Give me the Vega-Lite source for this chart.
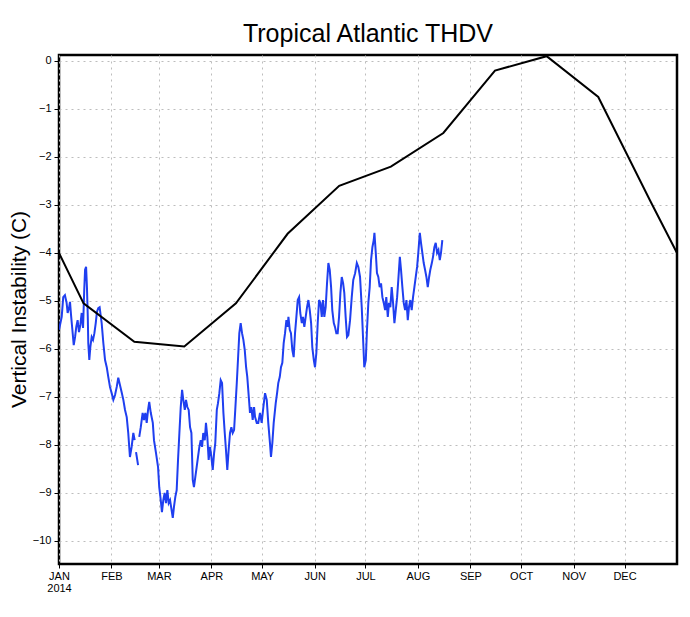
{
  "$schema": "https://vega.github.io/schema/vega-lite/v6.json",
  "width": 618,
  "height": 509,
  "autosize": "none",
  "padding": {"left": 59, "top": 55, "right": 13, "bottom": 53},
  "background": "white",
  "title": {"text": "Tropical Atlantic THDV", "fontSize": 25, "font": "Liberation Sans", "fontWeight": "normal", "color": "black", "anchor": "middle", "offset": 8},
  "config": {
    "view": {"stroke": "black", "strokeWidth": 2.5},
    "axis": {
      "domain": false,
      "grid": true,
      "gridColor": "#bdbdbd",
      "gridDash": [2, 4],
      "gridWidth": 1,
      "tickColor": "black",
      "labelColor": "black",
      "labelFont": "Liberation Sans",
      "labelFontSize": 11,
      "titleColor": "black"
    }
  },
  "datasets": {
    "obs": [
      {"d": 0, "v": -5.6}, {"d": 0.6, "v": -5.5}, {"d": 1.6, "v": -5.33}, {"d": 2.5, "v": -4.92}, {"d": 3.5, "v": -4.88},
      {"d": 4.5, "v": -5.04}, {"d": 5.1, "v": -5.25}, {"d": 5.9, "v": -5.15}, {"d": 6.5, "v": -5.02}, {"d": 7.1, "v": -5.29},
      {"d": 7.9, "v": -5.6}, {"d": 8.7, "v": -5.92}, {"d": 9.5, "v": -5.75}, {"d": 10.2, "v": -5.54}, {"d": 11.0, "v": -5.4},
      {"d": 11.8, "v": -5.65}, {"d": 12.6, "v": -5.5}, {"d": 13.4, "v": -5.25}, {"d": 14.2, "v": -5.56}, {"d": 14.9, "v": -4.77},
      {"d": 15.4, "v": -4.35}, {"d": 16.0, "v": -4.29}, {"d": 16.5, "v": -4.71}, {"d": 17.0, "v": -5.33}, {"d": 17.3, "v": -5.88},
      {"d": 17.9, "v": -6.23}, {"d": 18.5, "v": -5.96}, {"d": 19.3, "v": -5.75}, {"d": 20.1, "v": -5.81}, {"d": 20.9, "v": -5.67},
      {"d": 21.7, "v": -5.46}, {"d": 22.4, "v": -5.23}, {"d": 23.2, "v": -5.15}, {"d": 24.0, "v": -5.13}, {"d": 25.2, "v": -5.46},
      {"d": 26.2, "v": -5.88}, {"d": 27.2, "v": -6.23}, {"d": 28.2, "v": -6.38}, {"d": 29.1, "v": -6.58}, {"d": 30.1, "v": -6.79},
      {"d": 31.1, "v": -6.92}, {"d": 32.1, "v": -7.06}, {"d": 33.1, "v": -6.96}, {"d": 34.1, "v": -6.79}, {"d": 35.0, "v": -6.6},
      {"d": 36.0, "v": -6.75}, {"d": 37.0, "v": -6.9}, {"d": 38.0, "v": -7.06}, {"d": 39.0, "v": -7.27}, {"d": 40.0, "v": -7.42},
      {"d": 40.9, "v": -7.75}, {"d": 41.9, "v": -8.25}, {"d": 42.9, "v": -8.04}, {"d": 43.9, "v": -7.75}, {"d": 44.7, "v": -7.9},
      {"d": 45.1, "v": null},
      {"d": 45.5, "v": -8.15}, {"d": 46.7, "v": -8.42},
      {"d": 47.0, "v": null},
      {"d": 47.4, "v": -7.83}, {"d": 48.3, "v": -7.63}, {"d": 49.4, "v": -7.33}, {"d": 50.2, "v": -7.48}, {"d": 51.0, "v": -7.33},
      {"d": 51.8, "v": -7.54}, {"d": 52.6, "v": -7.27}, {"d": 53.3, "v": -7.1}, {"d": 54.2, "v": -7.33}, {"d": 55.4, "v": -7.54},
      {"d": 56.1, "v": -7.9}, {"d": 57.3, "v": -8.17}, {"d": 58.5, "v": -8.46}, {"d": 59.2, "v": -8.88}, {"d": 60.1, "v": -9.15},
      {"d": 60.8, "v": -9.4}, {"d": 61.6, "v": -9.15}, {"d": 62.4, "v": -9.0}, {"d": 63.2, "v": -9.21}, {"d": 64.0, "v": -8.94},
      {"d": 64.8, "v": -9.21}, {"d": 65.6, "v": -9.15}, {"d": 66.3, "v": -9.31}, {"d": 67.2, "v": -9.52}, {"d": 67.9, "v": -9.29},
      {"d": 68.7, "v": -9.08}, {"d": 69.5, "v": -8.94}, {"d": 70.3, "v": -8.31}, {"d": 71.1, "v": -7.75}, {"d": 71.9, "v": -7.21},
      {"d": 72.7, "v": -6.85}, {"d": 73.4, "v": -7.06}, {"d": 74.3, "v": -7.27}, {"d": 75.0, "v": -7.06}, {"d": 75.8, "v": -7.21},
      {"d": 76.6, "v": -7.27}, {"d": 77.4, "v": -7.63}, {"d": 78.2, "v": -7.75}, {"d": 79.0, "v": -8.73}, {"d": 79.7, "v": -8.88},
      {"d": 80.5, "v": -8.67}, {"d": 81.3, "v": -8.46}, {"d": 82.1, "v": -8.25}, {"d": 82.9, "v": -8.04}, {"d": 83.7, "v": -7.9},
      {"d": 84.5, "v": -8.04}, {"d": 85.2, "v": -7.75}, {"d": 86.1, "v": -7.9}, {"d": 86.8, "v": -7.54}, {"d": 87.6, "v": -7.83},
      {"d": 88.4, "v": -8.31}, {"d": 89.2, "v": -8.04}, {"d": 90.0, "v": -8.25}, {"d": 90.8, "v": -8.52}, {"d": 91.6, "v": -8.17},
      {"d": 92.3, "v": -7.96}, {"d": 93.2, "v": -7.27}, {"d": 93.9, "v": -7.13}, {"d": 94.7, "v": -6.92}, {"d": 95.5, "v": -6.65},
      {"d": 96.3, "v": -6.71}, {"d": 97.1, "v": -7.33}, {"d": 97.9, "v": -7.75}, {"d": 98.6, "v": -8.1}, {"d": 99.4, "v": -8.52},
      {"d": 100.2, "v": -8.1}, {"d": 101.0, "v": -7.75}, {"d": 101.8, "v": -7.63}, {"d": 102.6, "v": -7.75}, {"d": 103.4, "v": -7.69},
      {"d": 104.1, "v": -7.27}, {"d": 105.0, "v": -6.71}, {"d": 105.7, "v": -6.23}, {"d": 106.5, "v": -5.67}, {"d": 107.3, "v": -5.46},
      {"d": 108.1, "v": -5.67}, {"d": 108.9, "v": -5.81}, {"d": 109.7, "v": -6.02}, {"d": 110.5, "v": -6.38}, {"d": 111.2, "v": -6.58},
      {"d": 112.1, "v": -7.0}, {"d": 112.8, "v": -7.33}, {"d": 113.6, "v": -7.21}, {"d": 114.4, "v": -7.48}, {"d": 115.2, "v": -7.21},
      {"d": 115.8, "v": -7.42}, {"d": 116.8, "v": -7.54}, {"d": 117.7, "v": -7.54}, {"d": 118.7, "v": -7.33}, {"d": 119.7, "v": -7.54},
      {"d": 120.7, "v": -7.21}, {"d": 121.7, "v": -6.92}, {"d": 122.7, "v": -7.06}, {"d": 123.6, "v": -7.54}, {"d": 124.6, "v": -7.96},
      {"d": 125.2, "v": -8.25}, {"d": 126.0, "v": -7.96}, {"d": 126.8, "v": -7.54}, {"d": 128.0, "v": -7.13}, {"d": 128.8, "v": -6.92},
      {"d": 129.5, "v": -6.71}, {"d": 130.4, "v": -6.58}, {"d": 131.1, "v": -6.38}, {"d": 131.9, "v": -6.29}, {"d": 132.7, "v": -5.88},
      {"d": 133.5, "v": -5.67}, {"d": 134.3, "v": -5.4}, {"d": 135.1, "v": -5.54}, {"d": 135.5, "v": -5.33}, {"d": 136.3, "v": -5.6},
      {"d": 137.0, "v": -5.67}, {"d": 137.8, "v": -6.02}, {"d": 138.6, "v": -6.17}, {"d": 139.4, "v": -5.67}, {"d": 140.2, "v": -5.33},
      {"d": 141.0, "v": -4.98}, {"d": 141.8, "v": -4.92}, {"d": 142.5, "v": -5.25}, {"d": 143.4, "v": -5.46}, {"d": 144.1, "v": -5.33},
      {"d": 144.9, "v": -5.54}, {"d": 145.7, "v": -5.33}, {"d": 146.5, "v": -5.13}, {"d": 147.3, "v": -4.98}, {"d": 148.1, "v": -5.19},
      {"d": 148.9, "v": -5.46}, {"d": 149.6, "v": -5.96}, {"d": 150.5, "v": -6.23}, {"d": 151.2, "v": -6.38}, {"d": 152.0, "v": -6.08},
      {"d": 152.8, "v": -5.46}, {"d": 153.6, "v": -4.98}, {"d": 154.4, "v": -5.04}, {"d": 155.2, "v": -5.33}, {"d": 155.9, "v": -4.98},
      {"d": 156.7, "v": -5.33}, {"d": 157.5, "v": -5.13}, {"d": 158.3, "v": -4.63}, {"d": 159.1, "v": -4.21}, {"d": 159.9, "v": -4.35},
      {"d": 160.7, "v": -4.71}, {"d": 161.4, "v": -5.19}, {"d": 162.3, "v": -5.46}, {"d": 163.0, "v": -5.54}, {"d": 163.8, "v": -5.67},
      {"d": 164.6, "v": -5.67}, {"d": 165.4, "v": -5.33}, {"d": 166.2, "v": -4.83}, {"d": 167.0, "v": -4.5}, {"d": 167.8, "v": -4.63},
      {"d": 168.5, "v": -4.83}, {"d": 169.3, "v": -5.33}, {"d": 170.1, "v": -5.75}, {"d": 170.9, "v": -5.71}, {"d": 171.9, "v": -5.4},
      {"d": 172.9, "v": -4.92}, {"d": 173.8, "v": -4.56}, {"d": 174.9, "v": -4.42}, {"d": 175.9, "v": -4.21}, {"d": 176.8, "v": -4.29},
      {"d": 177.8, "v": -4.5}, {"d": 178.8, "v": -5.13}, {"d": 179.8, "v": -5.96}, {"d": 180.3, "v": -6.38}, {"d": 181.2, "v": -6.23},
      {"d": 181.9, "v": -5.6}, {"d": 182.7, "v": -5.04}, {"d": 183.5, "v": -4.71}, {"d": 184.3, "v": -4.15}, {"d": 185.1, "v": -3.88},
      {"d": 185.9, "v": -3.73}, {"d": 186.3, "v": -3.58}, {"d": 187.1, "v": -4.0}, {"d": 187.8, "v": -4.42}, {"d": 188.6, "v": -4.5},
      {"d": 189.4, "v": -4.71}, {"d": 190.2, "v": -4.63}, {"d": 191.0, "v": -4.92}, {"d": 191.8, "v": -5.04}, {"d": 192.6, "v": -5.19},
      {"d": 193.3, "v": -4.92}, {"d": 194.2, "v": -5.33}, {"d": 194.9, "v": -5.04}, {"d": 195.7, "v": -5.13}, {"d": 196.5, "v": -4.71},
      {"d": 197.3, "v": -5.04}, {"d": 198.1, "v": -5.46}, {"d": 198.9, "v": -5.19}, {"d": 199.7, "v": -4.92}, {"d": 200.4, "v": -4.56},
      {"d": 201.3, "v": -4.08}, {"d": 202.0, "v": -4.35}, {"d": 202.8, "v": -4.71}, {"d": 203.6, "v": -5.04}, {"d": 204.4, "v": -5.19},
      {"d": 205.2, "v": -4.98}, {"d": 206.0, "v": -5.4}, {"d": 206.7, "v": -5.13}, {"d": 207.5, "v": -4.98}, {"d": 208.3, "v": -5.19},
      {"d": 209.1, "v": -4.92}, {"d": 209.9, "v": -4.71}, {"d": 210.7, "v": -4.5}, {"d": 211.5, "v": -4.29}, {"d": 212.2, "v": -4.0},
      {"d": 213.1, "v": -3.58}, {"d": 213.8, "v": -3.79}, {"d": 214.6, "v": -4.0}, {"d": 215.4, "v": -4.21}, {"d": 216.2, "v": -4.35},
      {"d": 217.0, "v": -4.5}, {"d": 217.8, "v": -4.71}, {"d": 218.6, "v": -4.5}, {"d": 219.3, "v": -4.35}, {"d": 220.2, "v": -4.21},
      {"d": 220.9, "v": -4.08}, {"d": 221.7, "v": -3.88}, {"d": 222.5, "v": -3.79}, {"d": 223.3, "v": -4.0}, {"d": 224.1, "v": -3.94},
      {"d": 224.9, "v": -4.15}, {"d": 225.6, "v": -4.0}, {"d": 226.4, "v": -3.73}
    ],
    "clim": [
      {"d": 0, "v": -4.0}, {"d": 14.5, "v": -5.05}, {"d": 44.5, "v": -5.85}, {"d": 74, "v": -5.95},
      {"d": 104.5, "v": -5.05}, {"d": 135, "v": -3.6}, {"d": 165.5, "v": -2.6}, {"d": 196, "v": -2.2},
      {"d": 227, "v": -1.5}, {"d": 257.5, "v": -0.2}, {"d": 288, "v": 0.1}, {"d": 318.5, "v": -0.75},
      {"d": 349, "v": -2.9}, {"d": 365, "v": -4.0}
    ]
  },
  "encoding": {
    "x": {
      "field": "d",
      "type": "quantitative",
      "scale": {"domain": [0, 365], "nice": false, "zero": false},
      "axis": {
        "title": null,
        "values": [0, 31, 59, 90, 120, 151, 181, 212, 243, 273, 304, 334],
        "labelExpr": "datum.value == 0 ? ['JAN', '2014'] : ['JAN','FEB','MAR','APR','MAY','JUN','JUL','AUG','SEP','OCT','NOV','DEC'][indexof([0,31,59,90,120,151,181,212,243,273,304,334], datum.value)]",
        "tickSize": 4,
        "labelPadding": 2,
        "labelFlush": false,
        "labelOverlap": false,
        "labelLineHeight": 12
      }
    },
    "y": {
      "field": "v",
      "type": "quantitative",
      "scale": {"domain": [-10.48, 0.125], "nice": false, "zero": false},
      "axis": {
        "title": "Vertical Instability (C)",
        "values": [-10, -9, -8, -7, -6, -5, -4, -3, -2, -1, 0],
        "format": "d",
        "tickSize": 5,
        "labelPadding": 3,
        "titleFont": "Liberation Sans",
        "titleFontSize": 21,
        "titleFontWeight": "normal",
        "titleX": -40,
        "titleY": 254,
        "titleAngle": -90,
        "titleAlign": "center",
        "titleBaseline": "middle"
      }
    }
  },
  "layer": [
    {
      "data": {"name": "obs"},
      "mark": {"type": "line", "color": "#1f3ff0", "strokeWidth": 2, "clip": true}
    },
    {
      "data": {"name": "clim"},
      "mark": {"type": "line", "color": "black", "strokeWidth": 2, "clip": true}
    }
  ]
}
